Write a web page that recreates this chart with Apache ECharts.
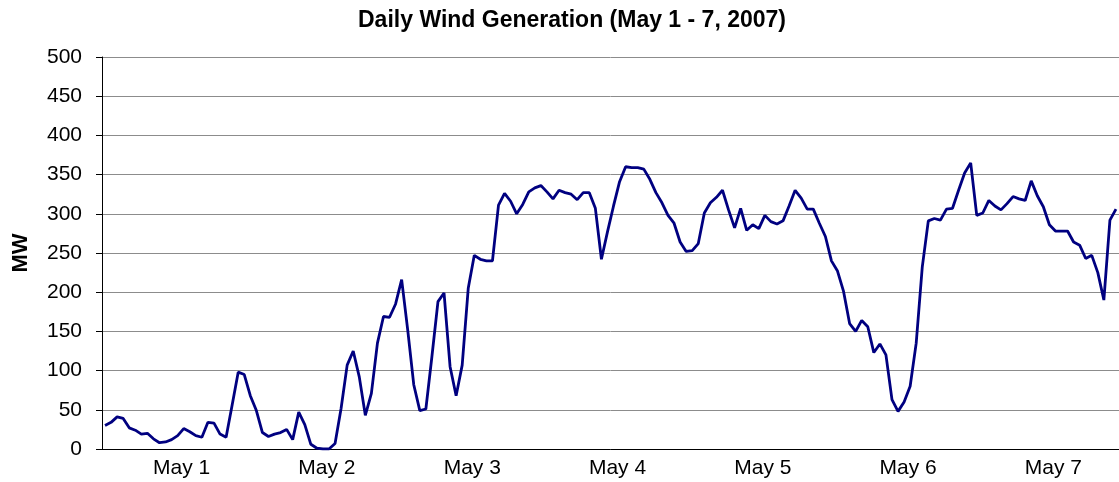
<!DOCTYPE html>
<html>
<head>
<meta charset="utf-8">
<title>Daily Wind Generation</title>
<script src="https://cdn.jsdelivr.net/npm/echarts@6/dist/echarts.min.js"></script>
<style>
  html, body { margin: 0; padding: 0; background: #fff; }
  #chart { width: 1119px; height: 482px; }
</style>
</head>
<body>
<div id="chart"></div>
<script>
var days = ["May 1", "May 2", "May 3", "May 4", "May 5", "May 6", "May 7"];
var hoursPerDay = 24;

// hourly wind generation, MW
var may1 = [30, 34, 41, 39, 27, 24, 19, 20, 13, 8, 9, 12, 17, 26, 22, 17, 15, 34, 33, 19, 15, 56, 98, 95];
var may2 = [68, 49, 21, 16, 19, 21, 25, 12, 47, 31, 6, 1, 0, 0, 7, 52, 107, 125, 92, 43, 71, 135, 169, 168];
var may3 = [185, 216, 152, 82, 49, 51, 118, 188, 199, 105, 68, 107, 205, 247, 242, 240, 240, 311, 326, 316, 300, 312, 328, 333];
var may4 = [336, 328, 319, 330, 327, 325, 318, 327, 327, 307, 242, 277, 310, 341, 360, 359, 359, 357, 344, 327, 314, 298, 288, 264];
var may5 = [252, 253, 262, 301, 314, 321, 330, 305, 282, 307, 279, 286, 281, 298, 290, 287, 291, 310, 330, 320, 306, 306, 288, 271];
var may6 = [240, 227, 201, 160, 150, 164, 156, 123, 134, 120, 63, 48, 60, 80, 135, 232, 291, 294, 292, 306, 307, 330, 352, 365];
var may7 = [298, 301, 317, 310, 305, 313, 322, 319, 317, 342, 323, 309, 286, 278, 278, 278, 264, 260, 243, 247, 225, 190, 292, 306];

var yTicks = [0, 50, 100, 150, 200, 250, 300, 350, 400, 450, 500];

var values = [].concat(may1, may2, may3, may4, may5, may6, may7);
var categories = [];
days.forEach(function (day) {
  for (var h = 0; h < hoursPerDay; h++) {
    categories.push(day + " " + (h < 10 ? "0" + h : h) + ":00");
  }
});

var font = "Liberation Sans, Arial, sans-serif";
var chart = echarts.init(document.getElementById("chart"), null, { renderer: "canvas" });

var option = {
  animation: false,
  title: {
    text: "Daily Wind Generation (May 1 - 7, 2007)",
    left: 572,
    textAlign: "center",
    top: 9,
    padding: 0,
    textStyle: { fontFamily: font, fontSize: 23, fontWeight: "bold", color: "#000" },
  },
  grid: { left: 102, right: -1, top: 57, bottom: 33, containLabel: false },
  xAxis: {
    type: "category",
    data: categories,
    boundaryGap: true,
    axisLine: { lineStyle: { color: "#000", width: 1 } },
    axisTick: {
      length: 7,
      interval: function (index) { return index % hoursPerDay === 0; },
      lineStyle: { color: "#000" },
    },
    axisLabel: {
      interval: function (index) { return index % hoursPerDay === 12; },
      formatter: function (v) { return v.slice(0, v.lastIndexOf(" ")); },
      fontFamily: font,
      fontSize: 21,
      color: "#000",
      margin: 9,
      padding: [0, 0, 0, 8],
    },
    splitLine: { show: false },
  },
  yAxis: {
    type: "value",
    min: yTicks[0],
    max: yTicks[yTicks.length - 1],
    interval: 50,
    name: "MW",
    nameLocation: "middle",
    nameGap: 70,
    nameTextStyle: { fontFamily: font, fontSize: 22, fontWeight: "bold", color: "#000" },
    axisLine: { show: true, lineStyle: { color: "#000", width: 1 } },
    axisTick: { show: true, length: 6, lineStyle: { color: "#000" } },
    axisLabel: { fontFamily: font, fontSize: 21, color: "#000", margin: 20 },
    splitLine: { lineStyle: { color: "#8c8c8c", width: 1 } },
  },
  series: [
    {
      name: "Wind Generation",
      type: "line",
      data: values,
      showSymbol: false,
      symbol: "none",
      lineStyle: { color: "#000080", width: 2.8 },
      itemStyle: { color: "#000080" },
    },
  ],
};
chart.setOption(option);
</script>
</body>
</html>
